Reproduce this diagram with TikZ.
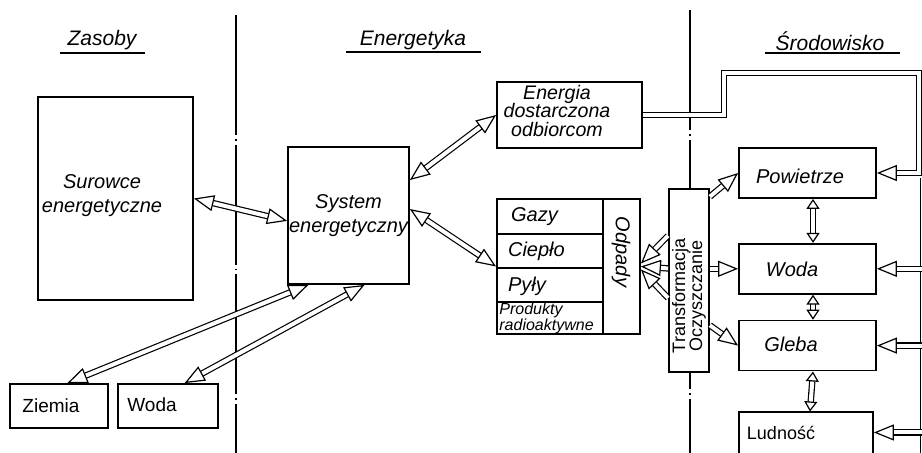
\documentclass[tikz,border=0pt]{standalone}
\usepackage{fontspec}
\setmainfont{Liberation Sans}
\usetikzlibrary{arrows.meta,positioning}

\tikzset{
  box/.style={draw, line width=0.9pt, inner sep=0pt, fill=white},
  txt/.style={font=\fontsize{10}{12}\selectfont\itshape, align=center},
  plain/.style={font=\fontsize{9.5}{11}\selectfont},
  head/.style={font=\fontsize{10.5}{12}\selectfont\itshape},
  pipe/.style={double, double distance=2pt, line width=0.6pt},
  small/.style={>={Triangle[length=5pt,width=6.5pt,fill=white,line width=0.6pt]}},
  sep/.style={line width=0.7pt, dash pattern=on 60pt off 2pt on 0.8pt off 2pt}
}

\begin{document}
\begin{tikzpicture}[x=0.5pt, y=-0.5pt, >={Triangle[length=10pt,width=8pt,fill=white,line width=0.6pt]}]
      \useasboundingbox (0,0) rectangle (922,453);
      \draw[sep] (236,15) -- (236,453);
      \draw[sep] (690,10) -- (690,453);

      \node[head] (zasoby) at (102,40) {Zasoby};
      \node[head] (energetyka) at (413,40) {Energetyka};
      \node[head] (srodowisko) at (830,41) {Środowisko};
      \draw[line width=0.7pt] (60,53) -- (145,53);
      \draw[line width=0.7pt] (346,52) -- (481,52);
      \draw[line width=0.7pt] (765,53) -- (900,53);

      \node[box, minimum width=77.5pt, minimum height=101.5pt] (surowce) at (115.5,198.5) {};
      \node[txt] (surowcetxt) at (102,196) {Surowce\\energetyczne};
      \node[box, minimum width=49pt, minimum height=22pt] (ziemia) at (59,406) {};
      \node[plain] (ziemiatxt) at (51,406) {Ziemia};
      \node[box, minimum width=50pt, minimum height=22pt] (wodal) at (168,406) {};
      \node[plain] (wodaltxt) at (152,405) {Woda};

      \node[box, minimum width=60.5pt, minimum height=68.5pt, txt] (system) at (348.5,215.5) {System\\energetyczny};
      \node[box, minimum width=72.5pt, minimum height=33pt] (energia) at (569.5,115) {};
      \node[txt, font=\fontsize{9.8}{9.4}\selectfont\itshape] (energiatxt) at (557,111) {Energia\\dostarczona\\odbiorcom};

      \node[box, minimum width=71.5pt, minimum height=67.5pt] (odpady) at (568.5,266.5) {};
      \draw[line width=0.9pt] (603,199) -- (603,334);
      \draw[line width=0.9pt] (497,234) -- (603,234);
      \draw[line width=0.9pt] (497,268) -- (603,268);
      \draw[line width=0.9pt] (497,302) -- (603,302);
      \node[txt, anchor=west] (gazy) at (504,217) {Gazy};
      \node[txt, anchor=west] (cieplo) at (501,251) {Ciepło};
      \node[txt, anchor=west] (pyly) at (501,286) {Pyły};
      \node[anchor=west, inner sep=0.5pt, align=left, font=\fontsize{8}{8}\selectfont\itshape] (produkty) at (498,318) {Produkty\\radioaktywne};
      \node[txt, rotate=-90] (odpadytxt) at (621,252) {Odpady};

      \node[box, minimum width=20pt, minimum height=91.5pt] (trans) at (689,280.5) {};
      \node[rotate=90, align=center, font=\fontsize{9}{8.5}\selectfont] (transtxt) at (689,296) {Transformacja\\Oczyszczanie};

      \node[box, minimum width=68.5pt, minimum height=25pt] (pow) at (807.5,173) {};
      \node[box, minimum width=68.5pt, minimum height=25pt, below=22pt of pow] (woda) {};
      \node[box, minimum width=68.5pt, minimum height=25pt, below=12.5pt of woda] (gleba) {};
      \node[box, minimum width=67pt, minimum height=50pt, below=20pt of gleba, xshift=-0.75pt] (lud) {};
      \node[txt] (powtxt) at (800,176) {Powietrze};
      \node[txt] (wodatxt) at (792,269) {Woda};
      \node[txt] (glebatxt) at (791,344) {Gleba};
      \node[plain, font=\fontsize{9}{11}\selectfont] (ludtxt) at (781,433) {Ludność};

      \draw[pipe,<->] (surowce.east) -- (system.185);
      \draw[pipe,<->] (system.30) -- (energia.west);
      \draw[pipe,<->] (system.6) -- (odpady.west);
      \draw[pipe,<->] (ziemia.70) -- (system.240);
      \draw[pipe,<->] (wodal.54) -- (system.283);

      \draw[pipe,->] (trans.76) -- (pow.west);
      \draw[pipe,->] (trans.east |- woda.west) -- (woda.west);
      \draw[pipe,->] (trans.295) -- (gleba.west);
      \draw[pipe,->] (trans.115) -- ([yshift=1.5pt]odpady.east);
      \draw[pipe,->] (trans.150) -- (odpady.east);
      \draw[pipe,->] (trans.220) -- ([yshift=-1.5pt]odpady.east);

      \draw[pipe,<->,small] ([xshift=2.75pt]pow.south) -- ([xshift=2.75pt]woda.north);
      \draw[pipe,<->,small] ([xshift=2.75pt]woda.south) -- ([xshift=2.75pt]gleba.north);
      \draw[pipe,<->,small] ([xshift=2.75pt]gleba.south) -- ([xshift=2pt]lud.north);

      \coordinate (bend1) at (724,73);
      \coordinate (bend2) at (919,73);
      \draw[pipe,->] (energia.east) -| (bend1) -- (bend2) |- (pow.east);
      \coordinate (rtop) at (923,178);
      \coordinate (rbot) at (923,460);
      \coordinate (ludin) at ([yshift=-10.5pt]lud.north east);
      \draw[pipe] (rtop) -- (rbot);
      \draw[pipe,->] (rtop |- woda.east) -- (woda.east);
      \draw[pipe,->] (rtop |- gleba.east) -- (gleba.east);
      \draw[pipe,->] (rtop |- ludin) -- (ludin);
\end{tikzpicture}
\end{document}
